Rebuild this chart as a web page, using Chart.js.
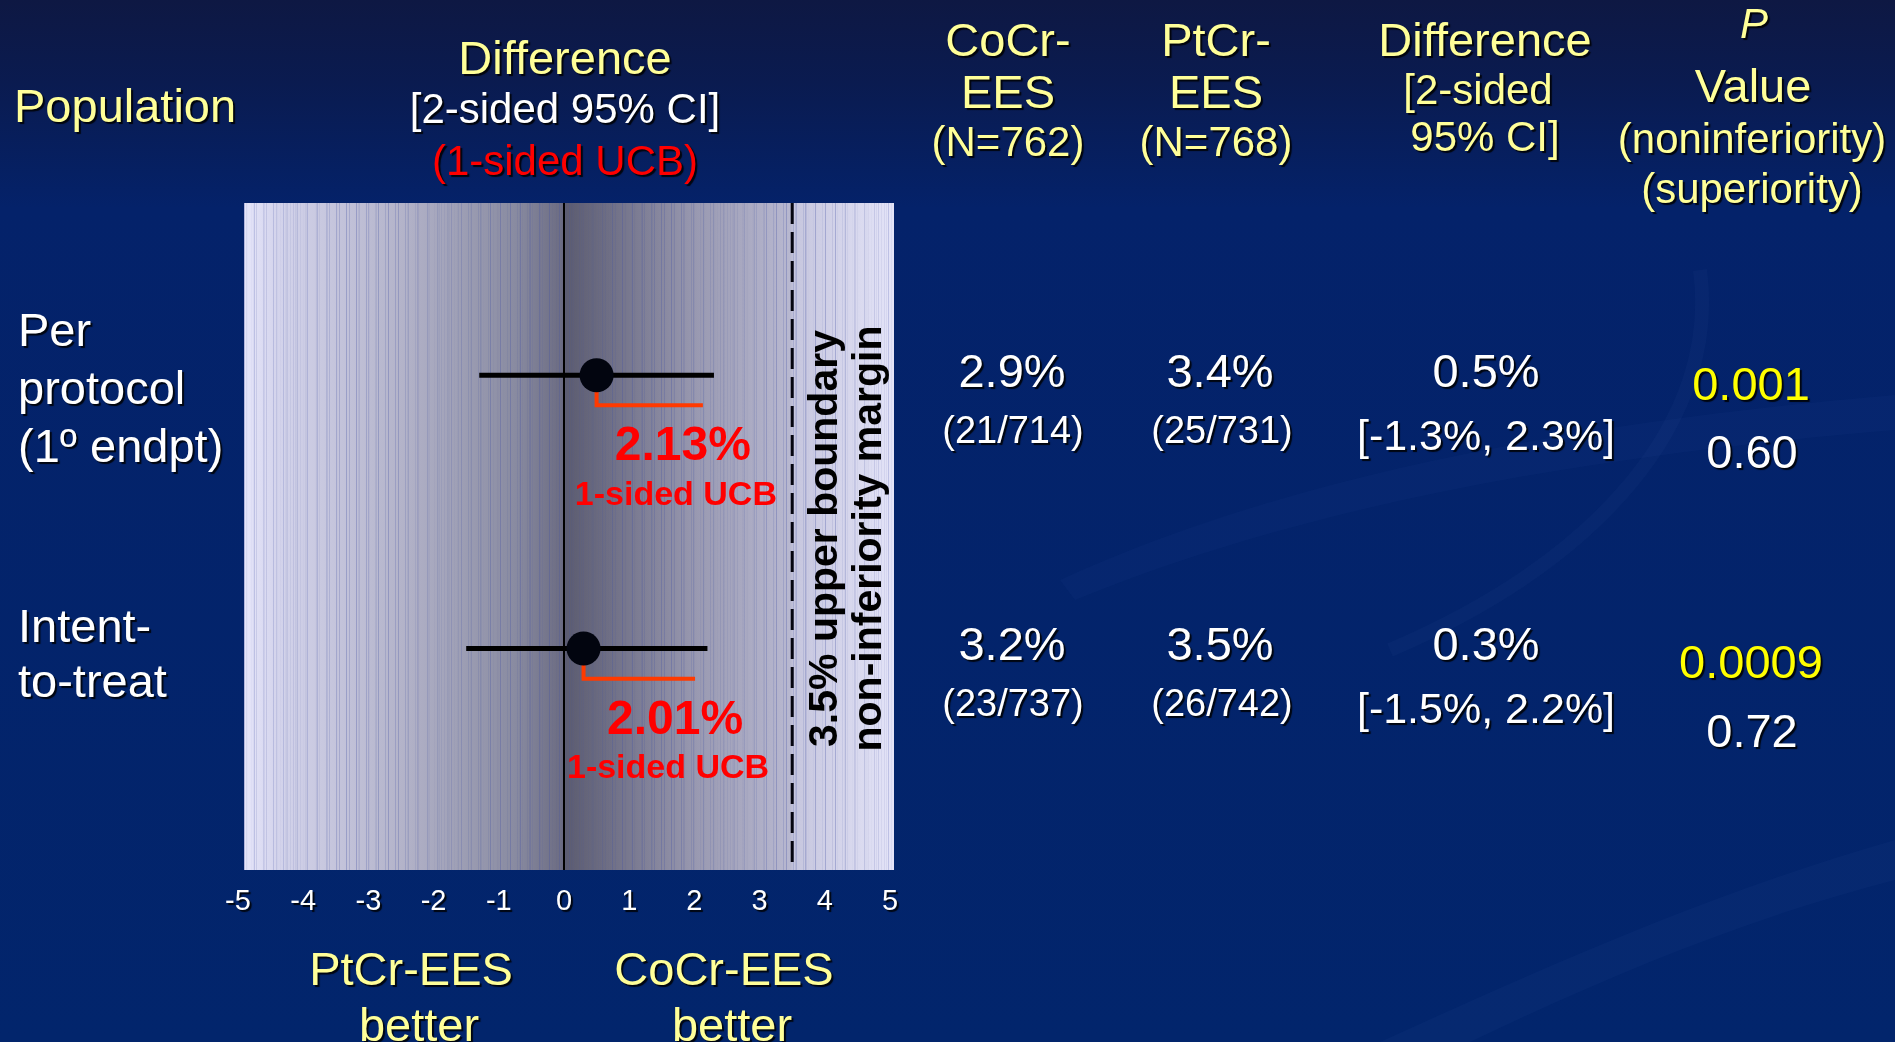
<!DOCTYPE html>
<html>
<head>
<meta charset="utf-8">
<title>CoCr-EES vs PtCr-EES: difference and 1-sided UCB</title>
<script src="https://cdn.jsdelivr.net/npm/chart.js@4.4.1/dist/chart.umd.min.js"></script>
<style>
  html, body { margin: 0; padding: 0; width: 1895px; height: 1042px; overflow: hidden; }
  body {
    position: relative;
    background: linear-gradient(to bottom, #0e1843 0%, #0a1b50 8%, #04226a 20%, #02256c 100%);
    font-family: "Liberation Sans", Arial, sans-serif;
  }
  #deco, #chart { position: absolute; left: 0; top: 0; }
  .t {
    position: absolute; transform: translate(-50%, -50%); white-space: nowrap;
    line-height: 1; text-shadow: 2px 2px 1px rgba(0, 0, 0, 0.85);
  }
  .t.left { transform: translate(0, -50%); }
  .yel { color: #ffff99; }
  .wht { color: #ffffff; }
  .red { color: #ff0000; }
  .byl { color: #ffff00; }
</style>
</head>
<body>
<svg id="deco" width="1895" height="1042" viewBox="0 0 1895 1042">
  <path d="M1060 580 C1300 470 1600 420 1895 395 L1895 430 C1600 455 1320 500 1075 600 Z" fill="rgba(120,150,220,0.035)"/>
  <path d="M1700 270 C1720 420 1600 560 1390 650" stroke="rgba(130,160,230,0.035)" stroke-width="14" fill="none"/>
  <path d="M1380 1042 C1560 960 1720 890 1895 840 L1895 880 C1740 920 1600 980 1470 1042 Z" fill="rgba(120,150,220,0.04)"/>
</svg>
<canvas id="chart" width="1895" height="1042"></canvas>
<div id="labels"></div>

<script>
// ---- data ----
const populations = ['Per protocol (1º endpt)', 'Intent-to-treat'];
const populationLines = [['Per', 'protocol', '(1º endpt)'], ['Intent-', 'to-treat']];
const diffEstimate = [0.5, 0.3];     // difference CoCr-EES minus PtCr-EES, %
const ciLower = [-1.3, -1.5];        // 2-sided 95% CI lower bound, %
const ciUpper = [2.3, 2.2];          // 2-sided 95% CI upper bound, %
const ucb = [2.13, 2.01];            // 1-sided upper confidence bound, %
const nonInfMargin = 3.5;            // non-inferiority margin, %
const cocrRate = [2.9, 3.2];
const cocrEvents = ['21/714', '23/737'];
const ptcrRate = [3.4, 3.5];
const ptcrEvents = ['25/731', '26/742'];
const pNonInferiority = ['0.001', '0.0009'];
const pSuperiority = ['0.60', '0.72'];
const xTicks = [-5, -4, -3, -2, -1, 0, 1, 2, 3, 4, 5];

// ---- layout ----
const ROW_Y = [375, 648];           // table row centres (px)
const BRACKET_DROP = 0.11;          // UCB bracket below the estimate, in row units
const Y_MIN = 0.37, Y_MAX = 2.81;
const FONT = '"Liberation Sans", Arial, sans-serif';

const labelsEl = document.getElementById('labels');
function put(text, x, y, size, cls, opts = {}) {
  const d = document.createElement('div');
  d.className = 't ' + cls + (opts.left ? ' left' : '');
  d.textContent = text;
  d.style.left = x + 'px';
  d.style.top = y + 'px';
  d.style.fontSize = size + 'px';
  if (opts.italic) d.style.fontStyle = 'italic';
  labelsEl.appendChild(d);
}

// column headers
put('Population', 14, 105, 47, 'yel', { left: true });
put('Difference', 565, 57, 47, 'yel');
put('[2-sided 95% CI]', 565, 109, 42, 'wht');
put('(1-sided UCB)', 565, 161, 42, 'red');
put('CoCr-', 1008, 39, 47, 'yel');
put('EES', 1008, 91, 47, 'yel');
put('(N=762)', 1008, 142, 42, 'yel');
put('PtCr-', 1216, 39, 47, 'yel');
put('EES', 1216, 91, 47, 'yel');
put('(N=768)', 1216, 142, 42, 'yel');
put('Difference', 1485, 39, 47, 'yel');
put('[2-sided', 1478, 90, 42, 'yel');
put('95% CI]', 1485, 137, 42, 'yel');
put('P', 1754, 24, 42, 'yel', { italic: true });
put('Value', 1753, 85, 47, 'yel');
put('(noninferiority)', 1752, 139, 42, 'yel');
put('(superiority)', 1752, 189, 42, 'yel');

// population labels
populationLines.forEach((lines, i) => {
  const gap = i === 0 ? 58 : 55;
  const first = i === 0 ? 329 : 625;
  lines.forEach((s, k) => put(s, 18, first + k * gap, 47, 'wht', { left: true }));
});

// table rows
populations.forEach((_, i) => {
  const y = ROW_Y[i];
  put(cocrRate[i].toFixed(1) + '%', 1012, y - 5, 47, 'wht');
  put('(' + cocrEvents[i] + ')', 1013, y + 55, 38, 'wht');
  put(ptcrRate[i].toFixed(1) + '%', 1220, y - 5, 47, 'wht');
  put('(' + ptcrEvents[i] + ')', 1222, y + 55, 38, 'wht');
  put(diffEstimate[i].toFixed(1) + '%', 1486, y - 5, 47, 'wht');
  put('[' + ciLower[i].toFixed(1) + '%, ' + ciUpper[i].toFixed(1) + '%]', 1486, y + 60, 43, 'wht');
  put(pNonInferiority[i], 1751, y + 8 - (i ? -5 : 0), 47, 'byl');
  put(pSuperiority[i], 1752, y + 76 + (i ? 6 : 0), 47, 'wht');
});

// axis captions
put('PtCr-EES', 411, 968, 47, 'yel');
put('better', 419, 1024, 47, 'yel');
put('CoCr-EES', 724, 968, 47, 'yel');
put('better', 732, 1024, 47, 'yel');

// ---- chart ----
const rowPos = populations.map((_, i) => i + 1);

const datasets = [
  {
    label: 'Difference',
    data: rowPos.map((y, i) => ({ x: diffEstimate[i], y })),
    pointRadius: 17, pointHoverRadius: 17,
    backgroundColor: '#02050f', borderWidth: 0, order: 0
  }
];
rowPos.forEach((y, i) => {
  datasets.push({
    label: '95% CI ' + populations[i],
    data: [{ x: ciLower[i], y }, { x: ciUpper[i], y }],
    showLine: true, borderColor: '#000000', borderWidth: 5,
    pointRadius: 0, order: 1, borderCapStyle: 'butt'
  });
  datasets.push({
    label: 'UCB ' + populations[i],
    data: [
      { x: diffEstimate[i], y },
      { x: diffEstimate[i], y: y + BRACKET_DROP },
      { x: ucb[i], y: y + BRACKET_DROP }
    ],
    showLine: true, borderColor: '#ff3a00', borderWidth: 4,
    pointRadius: 0, order: 2, borderCapStyle: 'butt', borderJoinStyle: 'miter'
  });
});
datasets.push({
  label: 'No difference',
  data: [{ x: 0, y: Y_MIN }, { x: 0, y: Y_MAX }],
  showLine: true, borderColor: '#000000', borderWidth: 2, pointRadius: 0, order: 3
});
datasets.push({
  label: 'Non-inferiority margin',
  data: [{ x: nonInfMargin, y: Y_MIN }, { x: nonInfMargin, y: Y_MAX }],
  showLine: true, borderColor: '#05050f', borderWidth: 3, borderDash: [21, 8],
  pointRadius: 0, order: 3
});

// shaded panel behind the plot, plus shadowed tick labels
const panelPlugin = {
  id: 'panel',
  beforeDraw(chart) {
    const { ctx, chartArea } = chart;
    const L = chartArea.left + 6, R = chartArea.right + 4;
    const T = chartArea.top, B = chartArea.bottom;
    const W = R - L;
    const xs = chart.scales.x;
    const f0 = (xs.getPixelForValue(0) - L) / W;
    const fm = (xs.getPixelForValue(nonInfMargin) - L) / W;
    const g = ctx.createLinearGradient(L, 0, R, 0);
    g.addColorStop(0, '#e6e6fa');
    g.addColorStop(0.05, '#d4d4ec');
    g.addColorStop(0.25, '#b2b2c8');
    g.addColorStop(0.42, '#888aa0');
    g.addColorStop(f0 - 0.003, '#6c6c82');
    g.addColorStop(f0 + 0.003, '#5c5c70');
    g.addColorStop(f0 + 0.06, '#6c6c82');
    g.addColorStop(0.70, '#9a9ab2');
    g.addColorStop(fm - 0.003, '#b8b8d0');
    g.addColorStop(fm + 0.003, '#c6c6de');
    g.addColorStop(1, '#e4e4f8');
    ctx.save();
    ctx.fillStyle = g;
    ctx.fillRect(L, T, W, B - T);
    // fine vertical brushed texture
    for (let x = Math.floor(L); x < R; x++) {
      const s = Math.sin(x * 1.913) + Math.sin(x * 0.617 + 1.3) + Math.sin(x * 3.71 + 0.4);
      if (s > 0.5) {
        ctx.fillStyle = 'rgba(70,85,165,' + Math.min(0.32, (s - 0.5) * 0.16).toFixed(3) + ')';
        ctx.fillRect(x, T, 1, B - T);
      }
    }
    ctx.restore();
    ctx.shadowColor = 'rgba(0,0,0,0.85)';
    ctx.shadowOffsetX = 2;
    ctx.shadowOffsetY = 2;
    ctx.shadowBlur = 1;
  },
  beforeDatasetsDraw(chart) {
    const ctx = chart.ctx;
    ctx.shadowColor = 'rgba(0,0,0,0)';
    ctx.shadowOffsetX = 0;
    ctx.shadowOffsetY = 0;
    ctx.shadowBlur = 0;
  },
  afterDatasetsDraw(chart) {
    const { ctx } = chart;
    const xs = chart.scales.x, ys = chart.scales.y;
    ctx.save();
    ctx.textAlign = 'center';
    ctx.textBaseline = 'middle';
    ctx.fillStyle = '#ff0000';
    rowPos.forEach((y, i) => {
      const px = xs.getPixelForValue(ucb[i]);
      const py = ys.getPixelForValue(y);
      ctx.font = 'bold 48px ' + FONT;
      ctx.fillText(ucb[i].toFixed(2) + '%', px - 20, py + 72);
      ctx.font = 'bold 34px ' + FONT;
      ctx.fillText('1-sided UCB', px - 27, py + 120);
    });
    // margin caption, rotated
    const mx = xs.getPixelForValue(nonInfMargin);
    const cy = (chart.chartArea.top + chart.chartArea.bottom) / 2 + 2;
    ctx.fillStyle = '#000000';
    ctx.font = 'bold 41px ' + FONT;
    [[nonInfMargin + '% upper boundary', 33], ['non-inferiority margin', 77]].forEach(([s, dx]) => {
      ctx.save();
      ctx.translate(mx + dx, cy);
      ctx.rotate(-Math.PI / 2);
      ctx.fillText(s, 0, 0);
      ctx.restore();
    });
    ctx.restore();
  }
};

new Chart(document.getElementById('chart'), {
  type: 'scatter',
  data: { datasets },
  options: {
    responsive: false,
    animation: false,
    events: [],
    layout: { padding: { left: 238, right: 1005, top: 203, bottom: 112 } },
    plugins: { legend: { display: false }, tooltip: { enabled: false } },
    scales: {
      x: {
        type: 'linear', min: xTicks[0], max: xTicks[xTicks.length - 1],
        afterBuildTicks: (scale) => { scale.ticks = xTicks.map(v => ({ value: v })); },
        afterFit: (scale) => { scale.height = 60; scale.paddingLeft = 0; scale.paddingRight = 0; },
        grid: { display: false, drawTicks: false },
        border: { display: false },
        ticks: {
          color: '#ffffff', padding: 15,
          font: { family: FONT, size: 29 },
          callback: (v) => String(v),
          maxRotation: 0, autoSkip: false
        }
      },
      y: {
        type: 'linear', reverse: true, min: Y_MIN, max: Y_MAX, display: false
      }
    }
  },
  plugins: [panelPlugin]
});
</script>
</body>
</html>
